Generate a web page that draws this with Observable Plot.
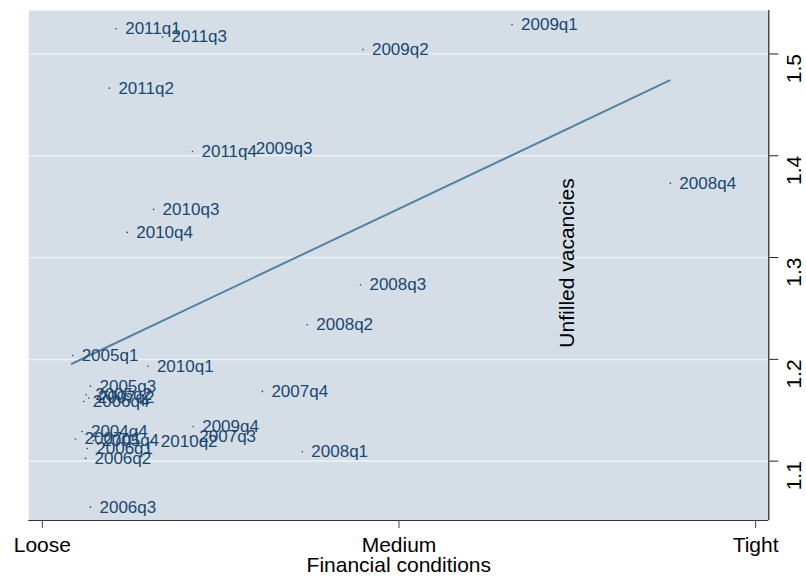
<!DOCTYPE html>
<html>
<head>
<meta charset="utf-8">
<script src="https://cdn.jsdelivr.net/npm/d3@7"></script>
<script src="https://cdn.jsdelivr.net/npm/@observablehq/plot@0.6"></script>
<style>
  html, body { margin: 0; padding: 0; background: #ffffff; }
  #chart svg { display: block; }
</style>
</head>
<body>
<div id="chart"></div>
<script>
// Quarter labels
const quarters = ["2004q4","2005q1","2005q2","2005q3","2005q4","2006q1","2006q2","2006q3","2006q4",
  "2007q1","2007q2","2007q3","2007q4","2008q1","2008q2","2008q3","2008q4",
  "2009q1","2009q2","2009q3","2009q4","2010q1","2010q2","2010q3","2010q4",
  "2011q1","2011q2","2011q3","2011q4"];
// Financial conditions (Loose = -1, Medium = 0, Tight = 1)
const finCond = [-0.889,-0.915,-0.877,-0.865,-0.857,-0.874,-0.879,-0.865,-0.884,
  -0.907,-0.870,-0.585,-0.383,-0.271,-0.257,-0.108,0.761,
  0.317,-0.101,-0.427,-0.577,-0.704,-0.693,-0.688,-0.762,
  -0.793,-0.812,-0.663,-0.579];
// Unfilled vacancies
const vacancies = [1.1292,1.2038,1.1652,1.1737,1.1203,1.1125,1.1027,1.0548,1.1586,
  1.1218,1.1621,1.1238,1.1685,1.1092,1.2340,1.2733,1.3731,
  1.5287,1.5044,1.4069,1.1341,1.1933,1.1193,1.3473,1.3247,
  1.5248,1.4664,1.5167,1.4042];
// Fitted line end points
const fitX = [-0.917, 0.759];
const fitY = [1.1957, 1.474];
// Axis ticks
const xTickVals = [-1, 0, 1];
const xTickLabels = ["Loose", "Medium", "Tight"];
const yTicks = [1.1, 1.2, 1.3, 1.4, 1.5];
const xDomain = [-1.038, 1.037];
const yDomain = [1.0417, 1.5427];

const points = quarters.map((q, i) => ({q, x: finCond[i], y: vacancies[i]}));
const fit = fitX.map((x, i) => ({x, y: fitY[i]}));

const font = "'Liberation Sans', Arial, Helvetica, sans-serif";
const navy = "#1a476f";

const chart = Plot.plot({
  width: 806,
  height: 576,
  marginLeft: 28.3,
  marginRight: 37.7,
  marginTop: 10,
  marginBottom: 56,
  style: {fontFamily: font, background: "#ffffff"},
  x: {domain: xDomain, axis: null},
  y: {domain: yDomain, axis: null},
  marks: [
    Plot.frame({fill: "#d5dee7", stroke: null}),
    Plot.ruleY(yTicks, {stroke: "#eaf0f4", strokeWidth: 1.6}),
    Plot.line(fit, {x: "x", y: "y", stroke: "#5580a0", strokeWidth: 2}),
    Plot.dot(points, {x: "x", y: "y", r: 0.8, fill: navy, stroke: null}),
    Plot.text(points, {x: "x", y: "y", text: "q", textAnchor: "start", dx: 9, fontSize: 17, fill: navy}),
    // Bottom axis line and right axis line
    Plot.ruleY([yDomain[0]], {stroke: "#333", strokeWidth: 1.2}),
    Plot.ruleX([xDomain[1]], {stroke: "#222", strokeWidth: 1.2}),
    Plot.axisX({
      anchor: "bottom",
      ticks: xTickVals,
      tickFormat: d => xTickLabels[xTickVals.indexOf(d)],
      tickSize: 8,
      tickPadding: 8.5,
      fontSize: 21,
      label: null,
      stroke: "#444",
      fill: "#000"
    }),
    Plot.axisY({
      anchor: "right",
      ticks: yTicks,
      tickSize: 9,
      tickFormat: () => "",
      label: null,
      stroke: "#222"
    }),
    Plot.text(yTicks, {y: d => d, text: d => d3.format(".1f")(d), frameAnchor: "right", dx: 25, rotate: -90, fontSize: 21, fill: "#000"}),
    Plot.text(["Financial conditions"], {frameAnchor: "bottom", dy: 51.5, fontSize: 21, fill: "#000"}),
    Plot.text(["Unfilled vacancies"], {frameAnchor: "middle", dx: 168, dy: -2.5, rotate: -90, fontSize: 21, fill: "#000"})
  ]
});
document.getElementById("chart").appendChild(chart);
</script>
</body>
</html>
